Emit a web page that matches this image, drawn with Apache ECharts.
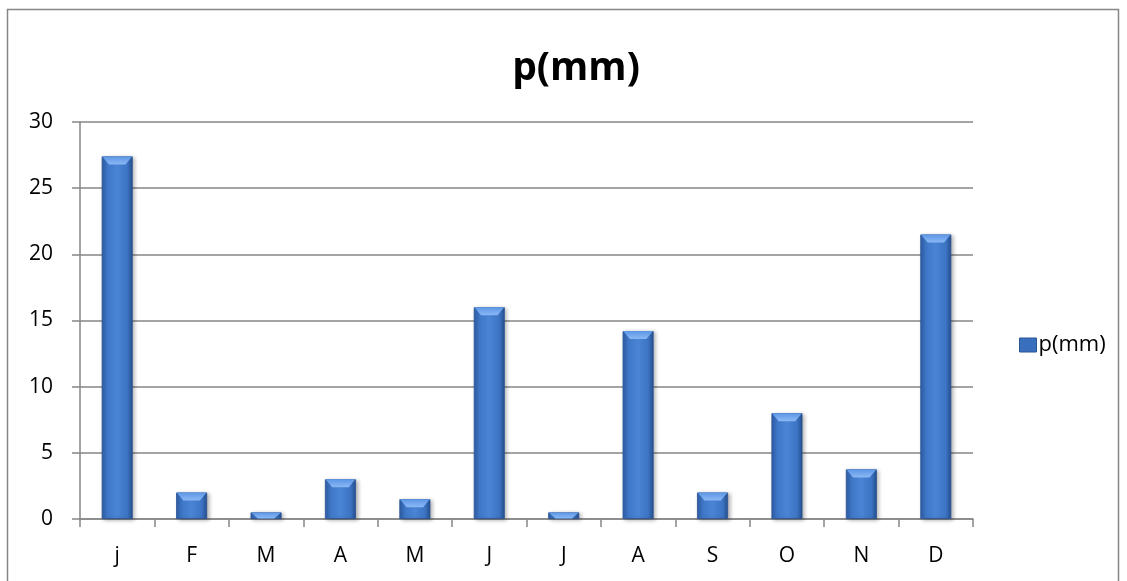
<!DOCTYPE html>
<html><head><meta charset="utf-8">
<script src="https://cdn.jsdelivr.net/npm/echarts@6/dist/echarts.min.js"></script>
<style>html,body{margin:0;padding:0;background:#fff}#c{width:1127px;height:581px}</style>
</head><body><div id="c"></div>
<script>
const categories = ['j','F','M','A','M','J','J','A','S','O','N','D'];
const values = [27.4, 2, 0.5, 3, 1.5, 16, 0.5, 14.2, 2, 8, 3.75, 21.5];
const yTicks = [0, 5, 10, 15, 20, 25, 30];
const seriesName = 'p(mm)';

const FONT = '"Open Sans", Lato, sans-serif';
const chart = echarts.init(document.getElementById('c'));
const barGrad = new echarts.graphic.LinearGradient(0, 0, 1, 0, [
  {offset: 0, color: '#2f5fa8'},
  {offset: 0.18, color: '#3f77c8'},
  {offset: 0.5, color: '#4a84d4'},
  {offset: 0.82, color: '#3d74c4'},
  {offset: 1, color: '#25508f'}
]);
chart.setOption({
  animation: false,
  title: {text: 'p(mm)', left: 571, top: 44, textAlign: 'center',
    textStyle: {fontFamily: FONT, fontWeight: 'bold', fontSize: 39, color: '#000'}},
  legend: {show: true, left: 1014, top: 329, itemWidth: 17, itemHeight: 14, itemGap: 6,
    data: [{name: seriesName, icon: 'rect', itemStyle: {color: '#3a6fbd', borderColor: '#2a5596', borderWidth: 1}}],
    textStyle: {fontFamily: FONT, fontSize: 22, color: '#000', padding: [0,0,0,-3]}},
  grid: {left: 80, right: 154, top: 122, bottom: 62},
  xAxis: {type: 'category', data: categories,
    axisLine: {lineStyle: {color: '#868686', width: 1.5}},
    axisTick: {show: true, length: 8, alignWithLabel: false, lineStyle: {color: '#868686', width: 1.5}},
    axisLabel: {fontFamily: FONT, fontSize: 21, color: '#000', margin: 27}},
  yAxis: {type: 'value', min: 0, max: 30, interval: 5,
    axisLine: {show: true, lineStyle: {color: '#868686', width: 1.5}},
    axisTick: {show: true, length: 8, lineStyle: {color: '#868686', width: 1.5}},
    splitLine: {lineStyle: {color: '#868686', width: 1.5}},
    axisLabel: {fontFamily: FONT, fontSize: 21, color: '#000', margin: 27,
      formatter: v => yTicks.includes(v) ? String(v) : ''}},
  graphic: [{type: 'rect', shape: {x: 7.5, y: 9.5, width: 1111, height: 600},
    style: {fill: 'none', stroke: '#868686', lineWidth: 1.5}, silent: true}],
  series: [
    {name: seriesName, type: 'bar', data: values, barWidth: 31,
      itemStyle: {color: barGrad, borderColor: '#2a5394', borderWidth: 0.8,
        shadowBlur: 4, shadowOffsetX: 2, shadowOffsetY: 1, shadowColor: 'rgba(0,0,0,0.3)'}},
    {name: 'bevel', type: 'pictorialBar', data: values, barWidth: 31, barGap: '-100%',
      symbol: 'path://M0,0 L31,0 L24,8 L7,8 Z', symbolPosition: 'end',
      symbolSize: v => [30, Math.min(8, v * 12)], symbolOffset: [0, 0], z: 3,
      itemStyle: {color: new echarts.graphic.LinearGradient(0, 0, 0, 1, [
        {offset: 0, color: '#5d96e6'}, {offset: 1, color: '#8ab8f4'}])},
      silent: true}
  ]
});
</script></body></html>
